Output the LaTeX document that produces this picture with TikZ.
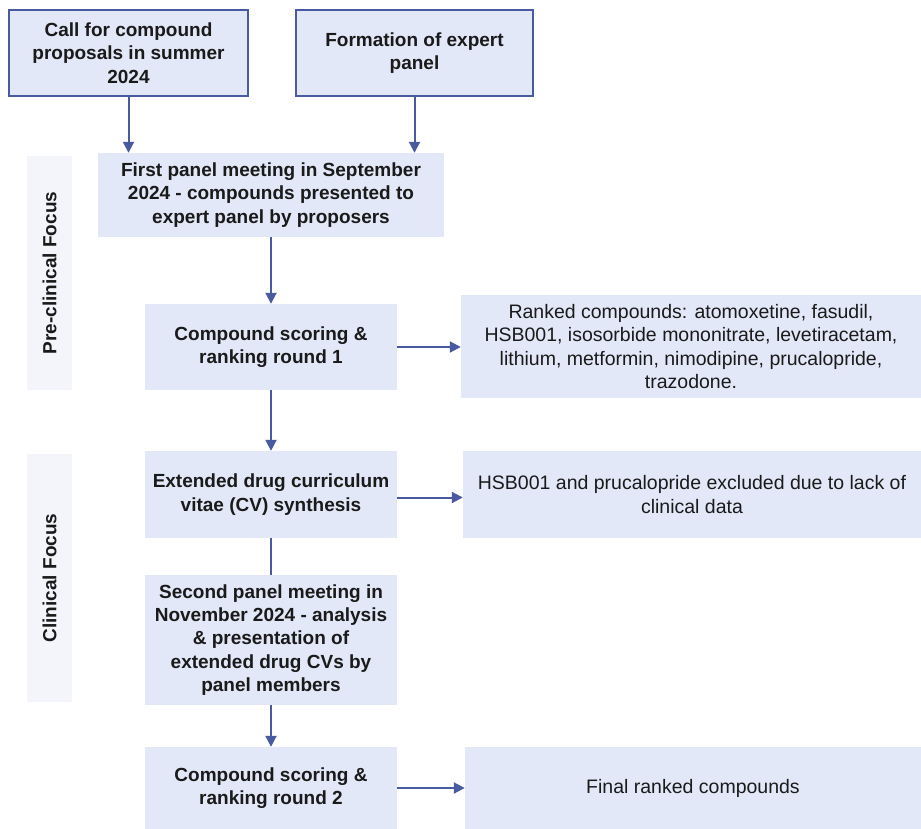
\documentclass[tikz,border=0pt]{standalone}
\usepackage{fontspec}
\setmainfont{Liberation Sans}
\usetikzlibrary{arrows.meta}
\definecolor{boxfill}{HTML}{E3E8F8}
\definecolor{bandfill}{HTML}{F3F5FB}
\definecolor{linecol}{HTML}{4A5AA0}
\definecolor{txt}{HTML}{1A1A1A}
\tikzset{
  box/.style={fill=boxfill, inner sep=0pt, align=center, text=txt,
    font=\fontsize{19}{23.3}\selectfont\bfseries},
  outbox/.style={box, draw=linecol, line width=1.5pt},
  resbox/.style={box, font=\fontsize{19.5}{23.3}\selectfont},
  band/.style={fill=bandfill, inner sep=0pt, text=txt,
    font=\fontsize{19}{22}\selectfont\bfseries},
  arr/.style={draw=linecol, line width=2pt, -{Triangle[width=11pt,length=11pt]}},
  ln/.style={draw=linecol, line width=2pt}
}
\begin{document}
\begin{tikzpicture}[x=1pt,y=-1pt]
\useasboundingbox (0,0) rectangle (921,829);
\node[outbox, minimum width=239pt, minimum height=86pt] (call) at (128.5,53)
  {Call for compound\\proposals in summer\\2024};
\node[outbox, minimum width=237pt, minimum height=86pt] (form) at (414.5,53)
  {Formation of expert\\panel};
\node[box, minimum width=346pt, minimum height=84pt] (first) at (271,195)
  {First panel meeting in September\\2024 - compounds presented to\\expert panel by proposers};
\node[box, minimum width=252pt, minimum height=86pt] (s1) at (271,347)
  {Compound scoring \&\\ranking round 1};
\node[resbox, minimum width=460pt, minimum height=103pt] (ranked) at (691,346.5)
  {Ranked compounds: atomoxetine, fasudil,\\HSB001, isosorbide mononitrate, levetiracetam,\\lithium, metformin, nimodipine, prucalopride,\\trazodone.};
\node[box, minimum width=252pt, minimum height=87pt] (ext) at (271,494.5)
  {Extended drug curriculum\\vitae (CV) synthesis};
\node[resbox, minimum width=458pt, minimum height=87pt] (hsb) at (692,494.5)
  {HSB001 and prucalopride excluded due to lack of\\clinical data};
\node[box, minimum width=252pt, minimum height=130pt] (sec) at (271,640)
  {Second panel meeting in\\November 2024 - analysis\\\& presentation of\\extended drug CVs by\\panel members};
\node[box, minimum width=252pt, minimum height=82pt] (s2) at (271,788)
  {Compound scoring \&\\ranking round 2};
\node[resbox, minimum width=456pt, minimum height=82pt] (final) at (693,788)
  {Final ranked compounds};
\node[band, minimum width=45pt, minimum height=234pt] (b1) at (49.5,273) {};
\node[band, rotate=90] (b1t) at (b1.center) {Pre-clinical Focus};
\node[band, minimum width=45pt, minimum height=248pt] (b2) at (49.5,578) {};
\node[band, rotate=90] (b2t) at (b2.center) {Clinical Focus};
\draw[arr] (call.south) -- (call.south |- first.north);
\draw[arr] (form.south) -- (form.south |- first.north);
\draw[arr] (first.south) -- (s1.north);
\draw[arr] (s1.east) -- (s1.east -| ranked.west);
\draw[arr] (s1.south) -- (ext.north);
\draw[arr] ([yshift=-3pt]ext.east) -- ([yshift=-3pt]ext.east -| hsb.west);
\draw[ln] (ext.south) -- (sec.north);
\draw[arr] (sec.south) -- (s2.north);
\draw[arr] (s2.east) -- (s2.east -| final.west);
\end{tikzpicture}
\end{document}
